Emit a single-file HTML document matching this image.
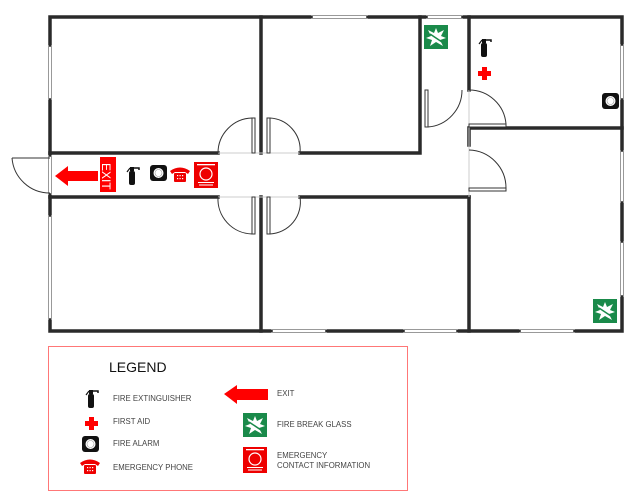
<!DOCTYPE html>
<html><head><style>
body{margin:0;background:#fff}
svg{display:block}
text{font-family:"Liberation Sans",sans-serif}
</style></head><body>
<svg width="640" height="504" viewBox="0 0 640 504" xmlns="http://www.w3.org/2000/svg">
<defs>
<g id="ext"><rect x="3" y="6" width="6" height="14" rx="2" fill="#111"/><rect x="4" y="2" width="4" height="4" fill="#111"/><path d="M6 3 H13 V5" stroke="#111" stroke-width="1.5" fill="none"/><path d="M4 3 L1 7" stroke="#111" stroke-width="1.2"/></g>
<g id="aid"><rect x="4" y="0" width="5" height="13" fill="#f00"/><rect x="0" y="4" width="13" height="5" fill="#f00"/></g>
<g id="alarm"><rect x="0" y="0" width="17" height="16" rx="3" fill="#111"/><circle cx="8.5" cy="8" r="5" fill="#fff"/><circle cx="8.5" cy="8" r="3.5" fill="none" stroke="#999" stroke-width="0.6"/></g>
<g id="phone"><path d="M0 5 Q10 -2 20 5 L18 8 L15 6 L5 6 L2 8 Z" fill="#e00"/><rect x="4" y="7" width="12" height="9" rx="1" fill="#e00"/><g fill="#fff"><rect x="7" y="9" width="1.2" height="1.2"/><rect x="9.5" y="9" width="1.2" height="1.2"/><rect x="12" y="9" width="1.2" height="1.2"/><rect x="7" y="12" width="1.2" height="1.2"/><rect x="9.5" y="12" width="1.2" height="1.2"/><rect x="12" y="12" width="1.2" height="1.2"/></g></g>
<g id="contact"><rect x="0" y="0" width="24" height="26" fill="#e00"/><circle cx="12" cy="12" r="6" fill="none" stroke="#fff" stroke-width="1.2"/><rect x="3" y="2" width="18" height="1.3" fill="#fff"/><rect x="4" y="20" width="16" height="1" fill="#fff"/><rect x="5" y="22.5" width="14" height="1" fill="#fff"/></g>
<g id="glass"><rect x="0" y="0" width="24" height="24" fill="#1a8a4a"/><path d="M12 3 L14 8 L20 5 L17 11 L22 13 L16 15 L19 21 L12 17 L6 21 L8 15 L2 13 L7 11 L4 5 L10 8 Z" fill="#fff"/><path d="M6 9 L18 17" stroke="#1a8a4a" stroke-width="1.5"/></g>
</defs>
<g stroke="#2a2a2a" stroke-width="3.5" fill="none" stroke-linecap="square">
<path d="M50 17 H311 M368 17 H426 M463 17 H622 V44 M622 100 V150 M622 203 V241 M622 297 V331 H575 M519 331 H458 M403 331 H327 M271 331 H50 V320 M50 215 V195 M50 155 V100 M50 45 V17"/>
<path d="M50 153 H218 M300 153 H420 V17 M261 17 V153"/>
<path d="M469 17 V90 M469 128 H622 M469 128 V145 M469 197 V331"/>
<path d="M50 197 H218 M300 197 H469 M261 197 V331"/>
</g>
<g stroke="#999" stroke-width="1" fill="none">
<path d="M311 15.5 H368 M311 18.5 H368 M426 15.5 H463 M426 18.5 H463"/>
<path d="M271 329.5 H327 M271 332.5 H327 M403 329.5 H458 M403 332.5 H458 M519 329.5 H575 M519 332.5 H575"/>
<path d="M620.5 44 V100 M623.5 44 V100 M620.5 150 V203 M623.5 150 V203 M620.5 241 V297 M623.5 241 V297"/>
<path d="M48.5 45 V100 M51.5 45 V100 M48.5 215 V320 M51.5 215 V320 M48.5 155 V195 M51.5 155 V195"/>
<path d="M218 153 H300 M218 197 H300 M469 90 V197" stroke="#ccc"/>
</g>
<g stroke="#333" stroke-width="1" fill="none">
<path d="M12 158 H50"/><path d="M12 158 A38 38 0 0 0 50 193"/>
<rect x="252" y="118" width="3" height="35" fill="#fff"/><path d="M252 118 A35 35 0 0 0 218 153"/>
<rect x="267" y="118" width="3" height="35" fill="#fff"/><path d="M270 118 A32 32 0 0 1 300 153"/>
<rect x="252" y="197" width="3" height="37" fill="#fff"/><path d="M252 234 A35 35 0 0 1 218 197"/>
<rect x="267" y="197" width="3" height="37" fill="#fff"/><path d="M270 234 A32 32 0 0 0 300 197"/>
<rect x="425" y="90" width="3" height="37" fill="#fff"/><path d="M428 127 A37 37 0 0 0 462 90"/>
<rect x="469" y="124" width="37" height="3" fill="#fff"/><path d="M506 124 A37 37 0 0 0 469 90"/>
<rect x="469" y="188" width="37" height="3" fill="#fff"/><path d="M506 188 A38 38 0 0 0 469 150"/>
</g>
<path d="M55 176 L68 166 V171 H98 V181 H68 V186 Z" fill="#f00"/>
<rect x="100" y="157" width="16" height="35" fill="#f00"/>
<text x="0" y="0" transform="translate(102,163) rotate(90)" fill="#fff" font-size="12">EXIT</text>
<use href="#ext" x="126" y="165"/>
<use href="#alarm" x="150" y="165"/>
<use href="#phone" x="170" y="166"/>
<use href="#contact" x="194" y="162"/>
<use href="#glass" x="424" y="25"/>
<use href="#ext" x="478" y="37"/>
<use href="#aid" x="478" y="67"/>
<use href="#alarm" x="602" y="93"/>
<use href="#glass" x="593" y="299"/>
<rect x="48.5" y="346.5" width="359" height="144" fill="none" stroke="#f77" stroke-width="1"/>
<text x="109" y="372" font-size="14" fill="#111">LEGEND</text>
<g font-size="7.8" fill="#444">
<text x="113" y="401">FIRE EXTINGUISHER</text>
<text x="113" y="424">FIRST AID</text>
<text x="113" y="446">FIRE ALARM</text>
<text x="113" y="470">EMERGENCY PHONE</text>
<text x="277" y="396">EXIT</text>
<text x="277" y="427">FIRE BREAK GLASS</text>
<text x="277" y="458">EMERGENCY</text>
<text x="277" y="468">CONTACT INFORMATION</text>
</g>
<use href="#ext" x="85" y="388"/>
<use href="#aid" x="85" y="417"/>
<use href="#alarm" x="82" y="436"/>
<use href="#phone" x="80" y="458"/>
<path d="M224 394 L237 385 V389 H268 V400 H237 V404 Z" fill="#f00"/>
<use href="#glass" x="243" y="413"/>
<use href="#contact" x="243" y="447"/>
</svg>
</body></html>
